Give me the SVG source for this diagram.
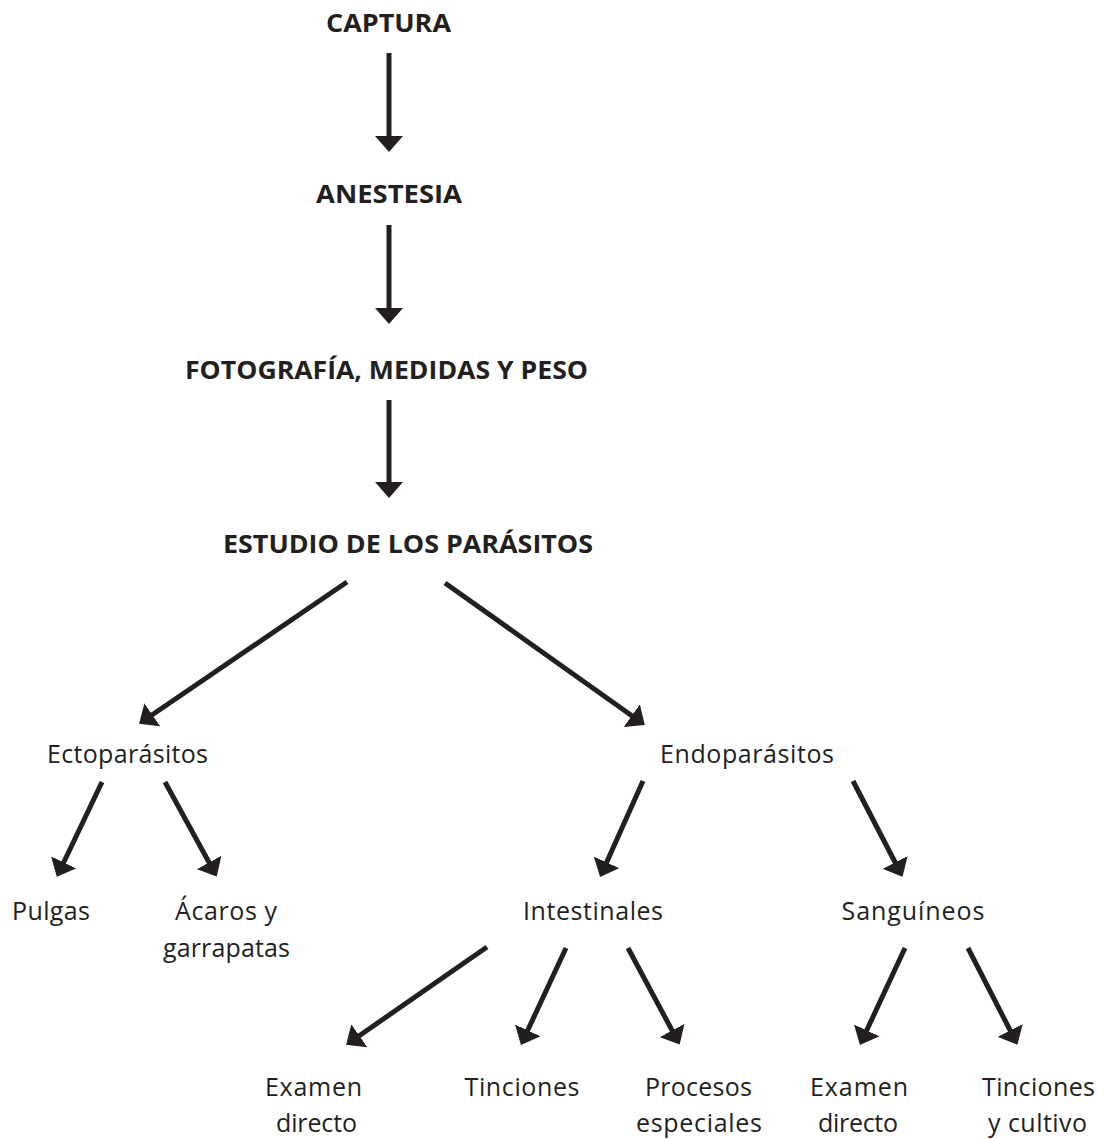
<svg xmlns="http://www.w3.org/2000/svg" width="1104" height="1139" viewBox="0 0 1104 1139">
<style>
.h{font-family:"Open Sans","Liberation Sans",sans-serif;font-weight:700;font-size:25px;fill:#231f20;text-anchor:middle}
.t{font-family:"Open Sans","Liberation Sans",sans-serif;font-weight:400;font-size:25px;fill:#231f20;text-anchor:middle}
.c{stroke:#231f20;stroke-width:5;fill:none;marker-end:url(#ah)}
</style>
<defs>
<marker id="ah" markerUnits="userSpaceOnUse" viewBox="0 0 16 28" refX="4" refY="14" markerWidth="16" markerHeight="28" orient="auto"><path d="M0,0 L16,14 L0,28 z" fill="#231f20"/></marker>
</defs>
<rect width="1104" height="1139" fill="#ffffff"/>
<g id="connectors">
<path class="c" d="M389,53 L389,140"/>
<path class="c" d="M389,225 L389,312"/>
<path class="c" d="M389,400 L389,486"/>
<path class="c" d="M347,582 L149,717"/>
<path class="c" d="M445,583 L635,718"/>
<path class="c" d="M102,782 L62,866"/>
<path class="c" d="M165,782 L211,866"/>
<path class="c" d="M643,781 L605,866"/>
<path class="c" d="M853,781 L897,866"/>
<path class="c" d="M487,947 L356,1038"/>
<path class="c" d="M566,948 L526,1034"/>
<path class="c" d="M628,948 L674,1034"/>
<path class="c" d="M905,948 L865,1034"/>
<path class="c" d="M968,948 L1012,1034"/>
</g>
<g id="captura"><text class="h" x="388.5" y="32" textLength="125" lengthAdjust="spacingAndGlyphs">CAPTURA</text></g>
<g id="anestesia"><text class="h" x="389" y="203" textLength="146" lengthAdjust="spacingAndGlyphs">ANESTESIA</text></g>
<g id="fotografia"><text class="h" x="386.5" y="379" textLength="403" lengthAdjust="spacingAndGlyphs">FOTOGRAFÍA, MEDIDAS Y PESO</text></g>
<g id="estudio"><text class="h" x="408" y="553" textLength="370" lengthAdjust="spacingAndGlyphs">ESTUDIO DE LOS PARÁSITOS</text></g>
<g id="ectoparasitos"><text class="t" x="127.5" y="763" textLength="161">Ectoparásitos</text></g>
<g id="endoparasitos"><text class="t" x="747" y="763" textLength="174">Endoparásitos</text></g>
<g id="pulgas"><text class="t" x="51" y="920" textLength="78">Pulgas</text></g>
<g id="acaros"><text class="t" x="226" y="920" textLength="102">Ácaros y</text><text class="t" x="226.5" y="957" textLength="127">garrapatas</text></g>
<g id="intestinales"><text class="t" x="593" y="920" textLength="140">Intestinales</text></g>
<g id="sanguineos"><text class="t" x="913" y="920" textLength="143">Sanguíneos</text></g>
<g id="examen1"><text class="t" x="313.5" y="1096" textLength="97">Examen</text><text class="t" x="316.5" y="1132" textLength="81">directo</text></g>
<g id="tinciones1"><text class="t" x="522" y="1096" textLength="115">Tinciones</text></g>
<g id="procesos"><text class="t" x="698.5" y="1096" textLength="107">Procesos</text><text class="t" x="699" y="1132" textLength="126">especiales</text></g>
<g id="examen2"><text class="t" x="859" y="1096" textLength="98">Examen</text><text class="t" x="858" y="1132" textLength="80">directo</text></g>
<g id="tinciones2"><text class="t" x="1038.5" y="1096" textLength="113">Tinciones</text><text class="t" x="1037.5" y="1132" textLength="99">y cultivo</text></g>
</svg>
